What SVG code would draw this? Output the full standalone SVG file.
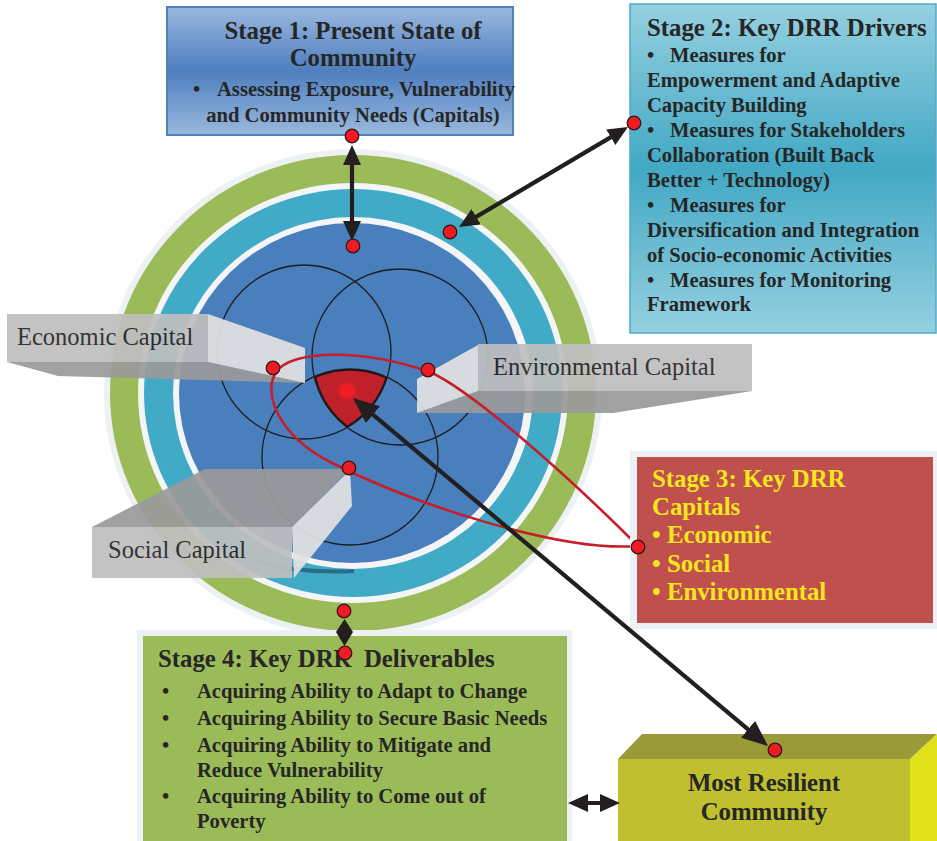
<svg xmlns="http://www.w3.org/2000/svg" width="937" height="841" viewBox="0 0 937 841">
  <style>
    .title { font-family: 'Liberation Serif', 'Times New Roman', serif; font-weight: bold; font-size: 24.8px; fill: #262626; }
    .body { font-family: 'Liberation Serif', 'Times New Roman', serif; font-weight: bold; font-size: 20.6px; fill: #262626; }
    .label { font-family: 'Liberation Serif', 'Times New Roman', serif; font-size: 24.5px; fill: #262626; }
    .yel { font-family: 'Liberation Serif', 'Times New Roman', serif; font-weight: bold; font-size: 24.8px; fill: #f5e61d; }
    .venn { fill: none; stroke: #1c1c1c; stroke-width: 1.3; }
    .port { fill: #ed1c24; stroke: #3a1515; stroke-width: 1.3; }
    .link { stroke: #231f20; stroke-width: 4.2; fill: none; }
    .beam { opacity: 0.93; }
    .front { fill: #bfbfbf; }
    .side { fill: #e2e2e2; }
    .under { fill: #9a9a9a; }
  </style>
  <defs>
    <linearGradient id="gStage1" x1="0" y1="0" x2="0" y2="1">
      <stop offset="0" stop-color="#9ab8de"/>
      <stop offset="0.5" stop-color="#4e7fbf"/>
      <stop offset="1" stop-color="#9ab8de"/>
    </linearGradient>
    <linearGradient id="gStage2" x1="0" y1="0" x2="0" y2="1">
      <stop offset="0" stop-color="#95d0e0"/>
      <stop offset="0.5" stop-color="#42a8c4"/>
      <stop offset="1" stop-color="#95d0e0"/>
    </linearGradient>
    <radialGradient id="gGlow">
      <stop offset="0.6" stop-color="#f01d25"/>
      <stop offset="1" stop-color="#f01d25" stop-opacity="0"/>
    </radialGradient>
    <clipPath id="cA"><circle cx="304" cy="352" r="87"/></clipPath>
    <clipPath id="cB"><circle cx="400" cy="357" r="88"/></clipPath>
    <clipPath id="cC"><circle cx="350" cy="457" r="88"/></clipPath>
    <marker id="tip" markerUnits="userSpaceOnUse" markerWidth="20" markerHeight="18" viewBox="0 0 20 18" refX="12" refY="9" orient="auto-start-reverse">
      <path d="M0,0 L20,9 L0,18 Z" fill="#231f20"/>
    </marker>
    <marker id="tipL" markerUnits="userSpaceOnUse" markerWidth="26" markerHeight="22" viewBox="0 0 26 22" refX="16" refY="11" orient="auto-start-reverse">
      <path d="M0,0 L26,11 L0,22 Z" fill="#231f20"/>
    </marker>
  </defs>

  <rect width="937" height="841" fill="#ffffff"/>

  <!-- concentric rings and the capital Venn core -->
  <g id="core">
    <ellipse cx="353" cy="393" rx="249" ry="244" fill="#eef1f4"/>
    <ellipse cx="353" cy="393" rx="243" ry="238" fill="#9bbb59"/>
    <ellipse cx="353" cy="393" rx="215" ry="210" fill="#f3f5f7"/>
    <ellipse cx="353" cy="393" rx="209" ry="204" fill="#41abc7"/>
    <ellipse cx="353" cy="393" rx="180" ry="176" fill="#f3f5f7"/>
    <ellipse cx="352" cy="393" rx="173" ry="170" fill="#4a7fbd"/>
    <path d="M256 561 Q300 574 354 571" fill="none" stroke="#2c6c8a" stroke-width="4"/>
    <g clip-path="url(#cA)">
      <g clip-path="url(#cB)">
        <g clip-path="url(#cC)">
          <rect x="250" y="340" width="200" height="120" fill="#c0202a"/>
          <circle cx="304" cy="352" r="87" fill="none" stroke="#2a1414" stroke-width="3.5"/>
          <circle cx="400" cy="357" r="88" fill="none" stroke="#2a1414" stroke-width="3.5"/>
          <circle cx="350" cy="457" r="88" fill="none" stroke="#2a1414" stroke-width="3.5"/>
        </g>
      </g>
    </g>
    <circle class="venn" cx="304" cy="352" r="87"/>
    <circle class="venn" cx="400" cy="357" r="88"/>
    <circle class="venn" cx="350" cy="457" r="88"/>
    <circle cx="347" cy="391" r="10" fill="url(#gGlow)"/>
  </g>

  <!-- capital beams -->
  <g id="economic" class="beam">
    <polygon class="under" points="7,362 208,362 305,383 58,376"/>
    <polygon class="side" points="208,314 305,348 305,383 208,362"/>
    <rect class="front" x="7" y="314" width="201" height="48"/>
    <text class="label" x="17" y="345">Economic Capital</text>
  </g>
  <g id="environmental" class="beam">
    <polygon class="under" points="478,391 752,391 613,413 417,413"/>
    <polygon class="side" points="417,379 478,345 478,391 417,413"/>
    <rect class="front" x="478" y="344" width="274" height="47"/>
    <text class="label" x="493" y="375">Environmental Capital</text>
  </g>
  <g id="social" class="beam">
    <polygon class="under" points="92,527 205,469 350,469 292,527"/>
    <polygon class="side" points="292,527 350,470 352,506 294,578"/>
    <rect class="front" x="92" y="527" width="200" height="51"/>
    <text class="label" x="108" y="558">Social Capital</text>
  </g>

  <!-- loop joining the three capitals to Stage 3 -->
  <path id="capital-loop" d="M638 546 C560 552 415 505 330 462 C280 436 262 395 276 372 C292 350 360 348 430 372 C470 390 560 468 638 546 Z" fill="none" stroke="#c41f2a" stroke-width="2.6"/>

  <g id="stage1">
    <rect x="167" y="7" width="346" height="128" fill="url(#gStage1)" stroke="#4f81bd" stroke-width="2"/>
    <text class="title" x="353" y="39" text-anchor="middle">Stage 1: Present State of</text>
    <text class="title" x="353" y="66" text-anchor="middle">Community</text>
    <text class="body" y="96"><tspan x="193">•</tspan><tspan x="217">Assessing Exposure, Vulnerability</tspan></text>
    <text class="body" x="353" y="122" text-anchor="middle">and Community Needs (Capitals)</text>
  </g>

  <g id="stage2">
    <rect x="630" y="4" width="306" height="329" fill="url(#gStage2)" stroke="#4bacc6" stroke-width="1.5"/>
    <text class="title" x="647" y="36">Stage 2: Key DRR Drivers</text>
    <text class="body" y="62"><tspan x="647">•</tspan><tspan x="670">Measures for</tspan></text>
    <text class="body" x="647" y="87">Empowerment and Adaptive</text>
    <text class="body" x="647" y="112">Capacity Building</text>
    <text class="body" y="137"><tspan x="647">•</tspan><tspan x="670">Measures for Stakeholders</tspan></text>
    <text class="body" x="647" y="162">Collaboration (Built Back</text>
    <text class="body" x="647" y="187">Better + Technology)</text>
    <text class="body" y="212"><tspan x="647">•</tspan><tspan x="670">Measures for</tspan></text>
    <text class="body" x="647" y="237">Diversification and Integration</text>
    <text class="body" x="647" y="262">of Socio-economic Activities</text>
    <text class="body" y="287"><tspan x="647">•</tspan><tspan x="670">Measures for Monitoring</tspan></text>
    <text class="body" x="647" y="311">Framework</text>
  </g>

  <g id="stage3">
    <rect x="630" y="451" width="307" height="178" fill="#eef1f4"/>
    <rect x="637" y="457" width="296" height="166" fill="#c0504d"/>
    <text class="yel" x="652" y="487">Stage 3: Key DRR</text>
    <text class="yel" x="652" y="515">Capitals</text>
    <text class="yel" x="652" y="543">• Economic</text>
    <text class="yel" x="652" y="572">• Social</text>
    <text class="yel" x="652" y="600">• Environmental</text>
  </g>

  <g id="stage4">
    <rect x="137" y="630" width="435" height="215" fill="#eef1f4"/>
    <rect x="143" y="636" width="424" height="210" fill="#9bbb59"/>
    <text class="title" x="158" y="667" xml:space="preserve">Stage 4: Key DRR  Deliverables</text>
    <text class="body" y="698"><tspan x="162">•</tspan><tspan x="197">Acquiring Ability to Adapt to Change</tspan></text>
    <text class="body" y="725"><tspan x="162">•</tspan><tspan x="197">Acquiring Ability to Secure Basic Needs</tspan></text>
    <text class="body" y="752"><tspan x="162">•</tspan><tspan x="197">Acquiring Ability to Mitigate and</tspan></text>
    <text class="body" x="197" y="777">Reduce Vulnerability</text>
    <text class="body" y="803"><tspan x="162">•</tspan><tspan x="197">Acquiring Ability to Come out of</tspan></text>
    <text class="body" x="197" y="828">Poverty</text>
  </g>

  <g id="resilient">
    <polygon points="618,759 642,734 937,734 910,759" fill="#999a38"/>
    <polygon points="910,759 937,734 937,841 910,841" fill="#e2e21b"/>
    <rect x="618" y="759" width="292" height="82" fill="#bfbf2f"/>
    <text class="title" x="764" y="791" text-anchor="middle">Most Resilient</text>
    <text class="title" x="764" y="820" text-anchor="middle">Community</text>
  </g>

  <!-- connectors -->
  <g id="connectors">
    <line class="link" x1="352" y1="153" x2="352" y2="233" marker-start="url(#tip)" marker-end="url(#tip)"/>
    <line class="link" x1="621.1" y1="131.1" x2="465.9" y2="222.9" marker-start="url(#tip)" marker-end="url(#tip)"/>
    <line class="link" x1="360.7" y1="404.4" x2="760.3" y2="739.6" stroke-width="5" marker-start="url(#tipL)" marker-end="url(#tipL)"/>
    <polygon points="344.5,619 353,632 344.5,646 336,632" fill="#231f20"/>
    <line class="link" x1="576" y1="803" x2="612" y2="803" marker-start="url(#tip)" marker-end="url(#tip)"/>
  </g>

  <!-- connection points -->
  <g id="ports">
    <circle class="port" cx="352" cy="136" r="6.8"/>
    <circle class="port" cx="353" cy="246" r="6.8"/>
    <circle class="port" cx="450" cy="232" r="6.8"/>
    <circle class="port" cx="634" cy="123" r="6.8"/>
    <circle class="port" cx="273" cy="368" r="6.8"/>
    <circle class="port" cx="428" cy="370" r="6.8"/>
    <circle class="port" cx="349" cy="468" r="6.8"/>
    <circle class="port" cx="638" cy="547" r="6.8"/>
    <circle class="port" cx="344" cy="611" r="6.8"/>
    <circle class="port" cx="345" cy="653" r="6.8"/>
    <circle class="port" cx="775" cy="750" r="6.8"/>
  </g>
</svg>
